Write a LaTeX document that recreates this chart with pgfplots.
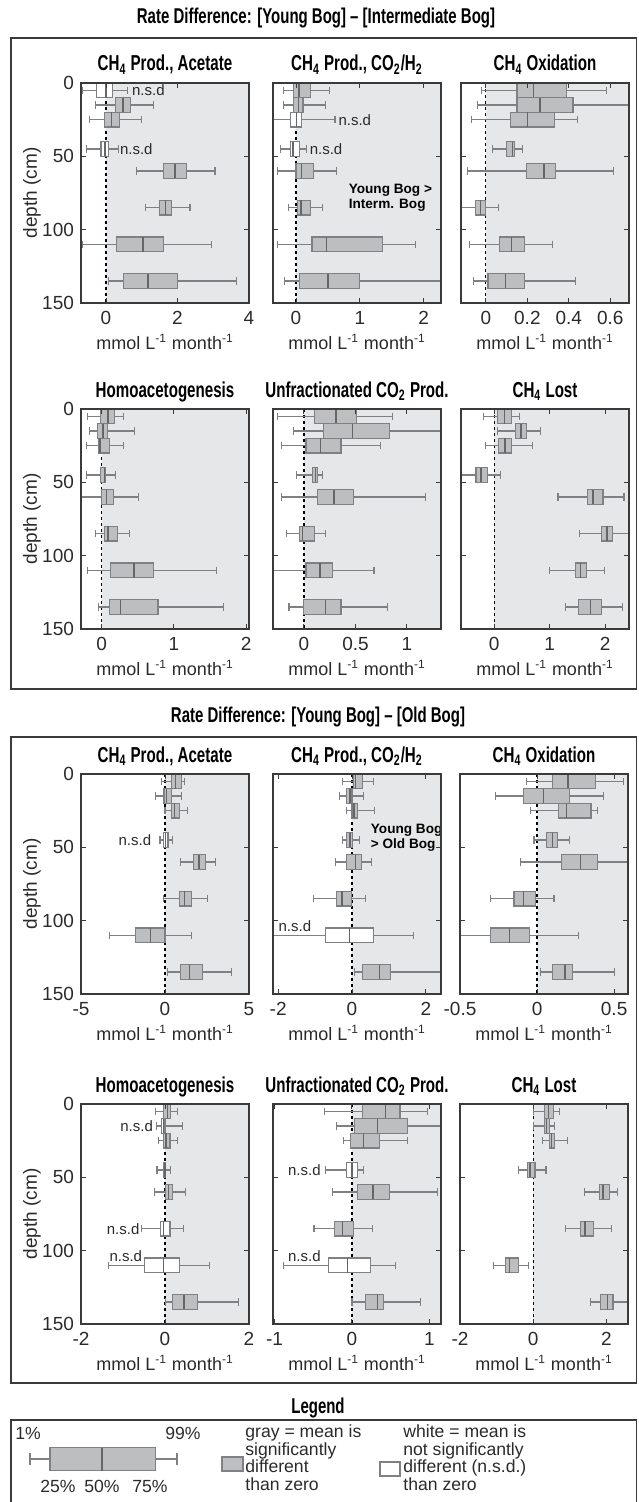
\documentclass[border=0pt]{standalone}
\usepackage{fontspec}
\setmainfont{Liberation Sans}
\newfontfamily\condfont[FakeStretch=0.7]{Liberation Sans}
\usepackage{pgfplots}
\usepackage{pgfplotstable}
\pgfplotsset{compat=1.18}
\usepgfplotslibrary{statistics}

\definecolor{bgc}{HTML}{E6E7E8}
\definecolor{boxc}{HTML}{BDBEC0}
\definecolor{edgec}{HTML}{7E8083}
\definecolor{axc}{HTML}{3A3A3A}
\definecolor{txc}{HTML}{2A2A2A}

\newcommand{\ttl}{\condfont\bfseries\fontsize{10.8}{11}\selectfont}
\newcommand{\sect}{\condfont\bfseries\fontsize{10.7}{13}\selectfont}
\newcommand{\unitlabel}{mmol L\textsuperscript{-1} month\textsuperscript{-1}}

% ---------- data: depth, 1%, 25%, 50%, 75%, 99%, significant ----------
\pgfplotstableread{
pos lw lq med uq uw sig
5 -0.67 -0.27 0.00 0.18 0.61 0
15 -0.30 0.26 0.47 0.68 1.34 1
25 -0.47 -0.05 0.15 0.38 0.99 1
45 -0.55 -0.14 -0.03 0.08 0.34 0
60 0.85 1.62 1.93 2.26 3.05 1
85 1.11 1.50 1.66 1.84 2.35 1
110 -0.66 0.29 1.03 1.62 2.96 1
135 0.08 0.50 1.18 2.01 3.64 1
}\tA
\pgfplotstableread{
pos lw lq med uq uw sig
5 -0.20 -0.04 0.05 0.22 0.53 1
15 -0.20 -0.04 0.04 0.11 0.46 1
25 -0.45 -0.08 0.01 0.08 0.61 0
45 -0.24 -0.08 -0.05 0.05 0.17 0
60 -0.29 0.00 0.09 0.27 0.63 1
85 -0.12 0.02 0.08 0.22 0.41 1
110 -0.29 0.25 0.48 1.35 1.87 1
135 -0.18 0.05 0.50 1.00 2.40 1
}\tB
\pgfplotstableread{
pos lw lq med uq uw sig
5 -0.02 0.15 0.23 0.39 0.58 1
15 -0.04 0.15 0.26 0.42 0.75 1
25 -0.07 0.12 0.20 0.33 0.44 1
45 0.03 0.10 0.127 0.14 0.175 1
60 -0.09 0.195 0.28 0.335 0.615 1
85 -0.15 -0.052 -0.026 -0.003 0.06 1
110 -0.08 0.066 0.123 0.187 0.32 1
135 -0.06 0.01 0.094 0.187 0.43 1
}\tC
\pgfplotstableread{
pos lw lq med uq uw sig
5 -0.20 -0.01 0.09 0.18 0.30 1
15 -0.17 -0.06 0.02 0.08 0.46 1
25 -0.21 -0.04 -0.02 0.11 0.30 1
45 -0.21 -0.02 0.04 0.06 0.19 1
60 -0.35 0.00 0.07 0.17 0.51 1
85 -0.08 0.04 0.09 0.22 0.38 1
110 -0.20 0.12 0.45 0.72 1.59 1
135 -0.04 0.11 0.26 0.78 1.69 1
}\tD
\pgfplotstableread{
pos lw lq med uq uw sig
5 -0.26 0.10 0.31 0.51 0.86 1
15 -0.10 0.19 0.47 0.83 1.45 1
25 -0.22 0.02 0.16 0.36 0.74 1
45 -0.07 0.08 0.11 0.135 0.18 1
60 -0.22 0.135 0.29 0.48 1.18 1
85 -0.17 -0.04 -0.015 0.10 0.21 1
110 -0.35 0.02 0.155 0.28 0.68 1
135 -0.145 0.00 0.21 0.36 0.81 1
}\tE
\pgfplotstableread{
pos lw lq med uq uw sig
5 -0.19 0.06 0.18 0.31 0.46 1
15 0.06 0.38 0.48 0.58 0.83 1
25 -0.16 0.08 0.19 0.31 0.69 1
45 -0.65 -0.33 -0.24 -0.13 0.11 1
60 1.15 1.68 1.78 1.96 2.34 1
85 1.54 1.94 2.03 2.13 2.50 1
110 0.99 1.46 1.56 1.66 1.99 1
135 1.28 1.52 1.74 1.93 2.32 1
}\tF
\pgfplotstableread{
pos lw lq med uq uw sig
5 -0.20 0.40 0.62 0.97 1.17 1
15 -0.54 -0.06 0.10 0.38 0.97 1
25 0.00 0.36 0.56 0.85 1.33 1
45 -0.30 -0.10 0.02 0.18 0.46 0
60 0.93 1.67 2.02 2.42 2.98 1
85 -0.08 0.87 1.17 1.59 2.54 1
110 -3.33 -1.75 -0.85 0.00 1.59 1
135 0.16 0.93 1.47 2.22 3.95 1
}\tG
\pgfplotstableread{
pos lw lq med uq uw sig
5 -0.25 0.05 0.09 0.29 0.57 1
15 -0.34 -0.14 -0.06 0.00 0.32 1
25 -0.14 0.00 0.05 0.15 0.61 1
45 -0.25 -0.14 -0.06 0.02 0.20 1
60 -0.45 -0.14 0.09 0.25 0.53 1
85 -1.05 -0.43 -0.27 -0.02 0.36 1
110 -2.30 -0.71 -0.07 0.57 1.66 0
135 0.06 0.29 0.75 1.03 2.60 1
}\tH
\pgfplotstableread{
pos lw lq med uq uw sig
5 -0.07 0.10 0.20 0.38 0.56 1
15 -0.27 -0.09 0.04 0.21 0.43 1
25 -0.04 0.14 0.19 0.35 0.39 1
45 -0.02 0.06 0.10 0.13 0.21 1
60 -0.11 0.16 0.28 0.39 0.65 1
85 -0.30 -0.15 -0.09 -0.01 0.11 1
110 -0.60 -0.30 -0.18 -0.05 0.27 1
135 0.02 0.10 0.18 0.23 0.50 1
}\tI
\pgfplotstableread{
pos lw lq med uq uw sig
5 -0.22 -0.03 0.06 0.14 0.30 1
15 -0.20 -0.08 -0.04 0.00 0.41 0
25 -0.15 -0.03 0.02 0.12 0.30 1
45 -0.19 -0.03 0.00 0.02 0.14 1
60 -0.25 0.01 0.09 0.18 0.48 1
85 -0.55 -0.10 -0.03 0.12 0.44 0
110 -1.35 -0.48 -0.03 0.34 1.06 0
135 0.02 0.18 0.45 0.78 1.76 1
}\tJ
\pgfplotstableread{
pos lw lq med uq uw sig
5 -0.35 0.14 0.43 0.62 0.98 1
15 -0.20 0.03 0.33 0.72 1.30 1
25 -0.11 -0.02 0.15 0.36 0.72 1
45 -0.34 -0.07 0.00 0.07 0.15 0
60 -0.25 0.07 0.27 0.48 1.10 1
85 -0.49 -0.23 -0.12 0.02 0.27 1
110 -0.89 -0.30 -0.06 0.24 0.56 0
135 0.00 0.17 0.33 0.41 0.89 1
}\tK
\pgfplotstableread{
pos lw lq med uq uw sig
5 0.02 0.30 0.41 0.55 0.71 1
15 0.02 0.30 0.36 0.45 0.59 1
25 0.25 0.45 0.50 0.59 0.93 1
45 -0.39 -0.16 -0.09 0.05 0.35 1
60 1.41 1.80 1.91 2.09 2.30 1
85 0.88 1.30 1.41 1.64 2.15 1
110 -1.09 -0.75 -0.64 -0.41 -0.12 1
135 1.56 1.84 2.03 2.18 2.70 1
}\tL
\pgfplotstableread{
pos lw lq med uq uw sig
1459 30 50 102 155.7 177 1
}\tLeg

\tikzset{
  nsd/.style={font=\fontsize{7.5}{8}\selectfont, text=txc, inner sep=0pt},
  note/.style={font=\bfseries\fontsize{6.8}{7.6}\selectfont, align=left, inner sep=0pt, text=black},
  lg/.style={font=\fontsize{8.8}{10}\selectfont, text=txc, inner sep=0pt},
}
\pgfplotsset{
  panel/.style={
    scale only axis, width=84pt, height=110pt,
    y dir=reverse, ymin=0, ymax=150, ytick={0,50,100,150},
    axis on top, clip=true,
    /pgf/number format/assume math mode=true,
    axis line style={axc, line width=0.6pt},
    tick style={axc, line width=0.5pt},
    major tick length=2.5pt,
    tick label style={font=\fontsize{9.5}{10}\selectfont, text=txc},
    xticklabel style={anchor=center, yshift=-7.5pt},
    title style={font=\ttl, at={(0.5,1)}, anchor=base},
    xlabel={\unitlabel},
    xlabel style={font=\fontsize{9}{10}\selectfont, text=txc, at={(axis description cs:0.5,-0.177)}, anchor=center},
    boxplot/draw direction=x,
    boxplot/box extend=10,
    boxplot/whisker extend=5,
    boxplot/every box/.style={draw=edgec},
    boxplot/every whisker/.style={edgec},
    boxplot/every median/.style={draw=black!60, line width=0.7pt},
  },
  leftpanel/.style={panel, yticklabels={0,50,100,150}, ylabel={depth (cm)},
    ylabel style={font=\fontsize{9.5}{10}\selectfont, text=txc, at={(axis description cs:-0.292,0.5)}, anchor=center}},
  innerpanel/.style={panel, yticklabels={}},
}

\newcommand{\bgzero}{%
  \addplot[fill=bgc, draw=none, forget plot] coordinates {(0,-10) (100,-10) (100,160) (0,160)} -- cycle;
  \addplot[black, line width=0.6pt, dash pattern=on 1.6pt off 1.4pt, forget plot] coordinates {(0,0) (0,150)};
}
% one box per table row, values taken from the table
\newcommand{\onebox}[2]{% #1 table, #2 row
  \pgfplotstablegetelem{#2}{pos}\of{#1}\edef\vpos{\pgfplotsretval}%
  \pgfplotstablegetelem{#2}{lw}\of{#1}\edef\vlw{\pgfplotsretval}%
  \pgfplotstablegetelem{#2}{lq}\of{#1}\edef\vlq{\pgfplotsretval}%
  \pgfplotstablegetelem{#2}{med}\of{#1}\edef\vmed{\pgfplotsretval}%
  \pgfplotstablegetelem{#2}{uq}\of{#1}\edef\vuq{\pgfplotsretval}%
  \pgfplotstablegetelem{#2}{uw}\of{#1}\edef\vuw{\pgfplotsretval}%
  \pgfplotstablegetelem{#2}{sig}\of{#1}%
  \ifnum\pgfplotsretval=1 \def\bfill{boxc}\else\def\bfill{white}\fi
  \edef\doit{\noexpand\addplot[line width=0.55pt, edgec,
    boxplot prepared={draw position=\vpos, lower whisker=\vlw, lower quartile=\vlq,
      median=\vmed, upper quartile=\vuq, upper whisker=\vuw},
    boxplot/every box/.append style={fill=\bfill}] coordinates {};}%
  \doit
}
\newcommand{\drawboxes}[1]{%
  \pgfplotsinvokeforeach{0,...,7}{\onebox{#1}{##1}}%
}

\begin{document}
\begin{tikzpicture}
\useasboundingbox (0,0) rectangle (319pt,-751pt);

% ================= Section 1 =================
\begin{axis}[leftpanel, at={(40.5pt,-41.5pt)}, anchor=north west,
  title={CH\textsubscript{4} Prod., Acetate}, xmin=-0.7, xmax=4, xtick={0,2,4}, xticklabels={0,2,4}]
\bgzero
\drawboxes{\tA}
\node[nsd, anchor=west] at (axis cs:0.72,5) {n.s.d};
\node[nsd, anchor=west] at (axis cs:0.38,45) {n.s.d};
\end{axis}

\begin{axis}[innerpanel, at={(136.5pt,-41.5pt)}, anchor=north west,
  title={CH\textsubscript{4} Prod., CO\textsubscript{2}/H\textsubscript{2}}, xmin=-0.36, xmax=2.27, xtick={0,1,2}, xticklabels={0,1,2}]
\bgzero
\drawboxes{\tB}
\node[nsd, anchor=west] at (axis cs:0.66,25) {n.s.d};
\node[nsd, anchor=west] at (axis cs:0.21,45) {n.s.d};
\node[note, anchor=west] at (axis cs:0.82,78) {Young Bog >\\Interm. Bog};
\end{axis}

\begin{axis}[innerpanel, at={(230.5pt,-41.5pt)}, anchor=north west,
  title={CH\textsubscript{4} Oxidation}, xmin=-0.12, xmax=0.69, xtick={0,0.2,0.4,0.6}, xticklabels={0,0.2,0.4,0.6}]
\bgzero
\drawboxes{\tC}
\end{axis}

\begin{axis}[leftpanel, at={(40.5pt,-204.5pt)}, anchor=north west,
  title={Homoacetogenesis}, xmin=-0.285, xmax=2.04, xtick={0,1,2}, xticklabels={0,1,2}]
\bgzero
\drawboxes{\tD}
\end{axis}

\begin{axis}[innerpanel, at={(136.5pt,-204.5pt)}, anchor=north west,
  title={Unfractionated CO\textsubscript{2} Prod.}, xmin=-0.30, xmax=1.33, xtick={0,0.5,1}, xticklabels={0,0.5,1}]
\bgzero
\drawboxes{\tE}
\end{axis}

\begin{axis}[innerpanel, at={(230.5pt,-204.5pt)}, anchor=north west,
  title={CH\textsubscript{4} Lost}, xmin=-0.60, xmax=2.43, xtick={0,1,2}, xticklabels={0,1,2}]
\bgzero
\drawboxes{\tF}
\end{axis}

% ================= Section 2 =================
\begin{axis}[leftpanel, at={(40.5pt,-387pt)}, anchor=north west,
  title={CH\textsubscript{4} Prod., Acetate}, xmin=-5, xmax=5, xtick={-5,0,5}, xticklabels={-5,0,5}]
\bgzero
\drawboxes{\tG}
\node[nsd, anchor=east] at (axis cs:-0.8,45) {n.s.d};
\end{axis}

\begin{axis}[innerpanel, at={(136.5pt,-387pt)}, anchor=north west,
  title={CH\textsubscript{4} Prod., CO\textsubscript{2}/H\textsubscript{2}}, xmin=-2.14, xmax=2.41, xtick={-2,0,2}, xticklabels={-2,0,2}]
\bgzero
\drawboxes{\tH}
\node[nsd, anchor=south west] at (axis cs:-2.0,108) {n.s.d};
\node[note, anchor=west] at (axis cs:0.5,43.3) {Young Bog\\> Old Bog};
\end{axis}

\begin{axis}[innerpanel, at={(230pt,-387pt)}, anchor=north west,
  title={CH\textsubscript{4} Oxidation}, xmin=-0.5, xmax=0.59, xtick={-0.5,0,0.5}, xticklabels={-0.5,0,0.5}]
\bgzero
\drawboxes{\tI}
\end{axis}

\begin{axis}[leftpanel, at={(40.5pt,-552pt)}, anchor=north west,
  title={Homoacetogenesis}, xmin=-2, xmax=2, xtick={-2,0,2}, xticklabels={-2,0,2}]
\bgzero
\drawboxes{\tJ}
\node[nsd, anchor=east] at (axis cs:-0.28,15) {n.s.d};
\node[nsd, anchor=east] at (axis cs:-0.60,85) {n.s.d};
\node[nsd, anchor=south west] at (axis cs:-1.33,108) {n.s.d};
\end{axis}

\begin{axis}[innerpanel, at={(136.5pt,-552pt)}, anchor=north west,
  title={Unfractionated CO\textsubscript{2} Prod.}, xmin=-1.02, xmax=1.15, xtick={-1,0,1}, xticklabels={-1,0,1}]
\bgzero
\drawboxes{\tK}
\node[nsd, anchor=east] at (axis cs:-0.40,45) {n.s.d};
\node[nsd, anchor=south west] at (axis cs:-0.83,108) {n.s.d};
\end{axis}

\begin{axis}[innerpanel, at={(230pt,-552pt)}, anchor=north west,
  title={CH\textsubscript{4} Lost}, xmin=-2, xmax=2.59, xtick={-2,0,2}, xticklabels={-2,0,2}]
\bgzero
\drawboxes{\tL}
\end{axis}

% ================= Legend =================
\begin{axis}[at={(0pt,-710pt)}, anchor=north west, scale only axis, width=319pt, height=41pt,
  xmin=0, xmax=638, ymin=1420, ymax=1502, y dir=reverse, hide axis, clip=false,
  boxplot/draw direction=x, boxplot/box extend=23, boxplot/whisker extend=12,
  boxplot/every box/.style={draw=edgec},
  boxplot/every whisker/.style={edgec},
  boxplot/every median/.style={draw=black!60, line width=0.7pt}]
\onebox{\tLeg}{0}
\addplot[fill=boxc, draw=edgec, line width=0.55pt] coordinates {(222,1457) (243,1457) (243,1471) (222,1471)} -- cycle;
\addplot[fill=white, draw=edgec, line width=0.55pt] coordinates {(380,1462) (400,1462) (400,1476) (380,1476)} -- cycle;
\node[lg, anchor=base] at (axis cs:28,1439) {1\%};
\node[lg, anchor=base] at (axis cs:183,1439) {99\%};
\node[lg, anchor=base] at (axis cs:58,1492) {25\%};
\node[lg, anchor=base] at (axis cs:102,1492) {50\%};
\node[lg, anchor=base] at (axis cs:150,1492) {75\%};
\node[lg, anchor=base west] at (axis cs:245,1437) {gray = mean is};
\node[lg, anchor=base west] at (axis cs:245,1455) {significantly};
\node[lg, anchor=base west] at (axis cs:245,1472) {different};
\node[lg, anchor=base west] at (axis cs:245,1490) {than zero};
\node[lg, anchor=base west] at (axis cs:403,1437) {white = mean is};
\node[lg, anchor=base west] at (axis cs:403,1455) {not significantly};
\node[lg, anchor=base west] at (axis cs:403,1472) {different (n.s.d.)};
\node[lg, anchor=base west] at (axis cs:403,1490) {than zero};
\end{axis}

% ================= frames and section titles =================
\draw[axc, line width=0.6pt] (5.5pt,-19pt) rectangle (318.4pt,-344.5pt);
\node[font=\sect, text=black] at (158pt,-9pt) {Rate Difference: [Young Bog] \textendash{} [Intermediate Bog]};
\draw[axc, line width=0.6pt] (5.5pt,-368.5pt) rectangle (318.4pt,-691.5pt);
\node[font=\sect, text=black] at (159pt,-358.5pt) {Rate Difference: [Young Bog] \textendash{} [Old Bog]};
\node[font=\sect, text=black] at (159pt,-704pt) {Legend};
\draw[axc, line width=0.6pt] (5.5pt,-752pt) -- (5.5pt,-710pt) -- (318.4pt,-710pt) -- (318.4pt,-752pt);
\end{tikzpicture}
\end{document}
